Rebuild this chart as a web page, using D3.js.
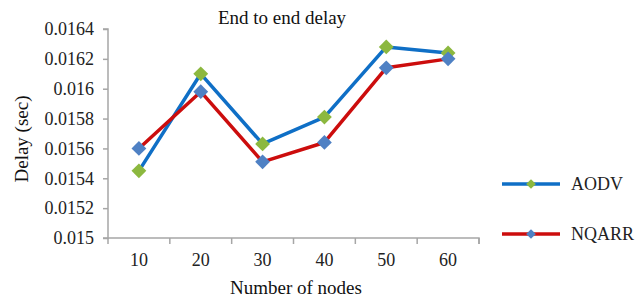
<!DOCTYPE html>
<html>
<head>
<meta charset="utf-8">
<script src="https://cdn.jsdelivr.net/npm/d3@7"></script>
<style>
  body { margin: 0; background: #fff; }
</style>
</head>
<body>
<div id="chart"></div>
<script>
const nodes = ['10', '20', '30', '40', '50', '60']
const aodv = [0.01545, 0.01610, 0.01563, 0.01581, 0.01628, 0.01624]
const nqarr = [0.01560, 0.01598, 0.01551, 0.01564, 0.01614, 0.01620]
const yTicks = [0.015, 0.0152, 0.0154, 0.0156, 0.0158, 0.016, 0.0162, 0.0164]

const W = 635, H = 300
const margin = {top: 29, right: 156, bottom: 62, left: 108}
const width = W - margin.left - margin.right
const height = H - margin.top - margin.bottom
const font = "'Liberation Serif', 'DejaVu Serif', 'Times New Roman', serif"

const svg = d3.select('#chart').append('svg')
    .attr('width', W).attr('height', H)

const g = svg.append('g')
    .attr('transform', `translate(${margin.left}, ${margin.top})`)

const x = d3.scaleBand().domain(nodes).range([0, width]).padding(0)
const y = d3.scaleLinear().domain([0.015, 0.0164]).range([height, 0])

// y axis
const yAxis = g.append('g')
    .call(d3.axisLeft(y).tickValues(yTicks).tickSize(5).tickPadding(9).tickFormat(d => String(+d.toFixed(4))))

// x axis, ticks sit between the categories
const xAxis = g.append('g')
    .attr('transform', `translate(0, ${height})`)
    .call(d3.axisBottom(x).tickSize(0).tickPadding(15))
xAxis.selectAll('.tick line').remove()
xAxis.selectAll('.bound')
    .data(nodes.map(d => x(d)).concat([width]))
    .enter().append('line')
    .attr('x1', d => d).attr('x2', d => d)
    .attr('y1', 0).attr('y2', 6)

yAxis.attr('font-family', null)
xAxis.attr('font-family', null)
g.selectAll('.domain, line').attr('stroke', '#a6a6a6').attr('stroke-width', 1.5)
g.selectAll('.tick text')
    .style('font-family', font).style('font-size', '18px').attr('fill', '#222')
yAxis.select('.domain').attr('d', `M-5,${height}H0V0H-5`)
xAxis.select('.domain').attr('d', `M0,0H${width}V6`)

const diamond = d3.symbol().type(d3.symbolDiamond2).size(140)
const smallDiamond = d3.symbol().type(d3.symbolDiamond2).size(60)

const series = [
    {name: 'AODV', values: aodv, line: '#0f6fc6', mark: '#8cb83f'},
    {name: 'NQARR', values: nqarr, line: '#cc0d0d', mark: '#4f81c4'}
]

const line = d3.line()
    .x((d, i) => x(nodes[i]) + x.bandwidth() / 2)
    .y(d => y(d))

series.forEach(s => {
    g.append('path')
        .datum(s.values)
        .attr('fill', 'none')
        .attr('stroke', s.line)
        .attr('stroke-width', 3.5)
        .attr('stroke-linejoin', 'round')
        .attr('d', line)
})
series.forEach(s => {
    g.selectAll(null)
        .data(s.values)
        .enter().append('path')
        .attr('d', diamond)
        .attr('fill', s.mark)
        .attr('transform', (d, i) => `translate(${x(nodes[i]) + x.bandwidth() / 2}, ${y(d)})`)
})

// legend
const legend = svg.append('g')
series.forEach((s, i) => {
    const ly = 184 + i * 50
    legend.append('line')
        .attr('x1', 502).attr('x2', 560).attr('y1', ly).attr('y2', ly)
        .attr('stroke', s.line).attr('stroke-width', 3.5)
    legend.append('path')
        .attr('d', smallDiamond)
        .attr('fill', s.mark)
        .attr('transform', `translate(531, ${ly})`)
    legend.append('text')
        .attr('x', 571).attr('y', ly + 6)
        .style('font-family', font).style('font-size', '18px').attr('fill', '#222')
        .text(s.name)
})

svg.append('text')
    .attr('x', 282).attr('y', 24)
    .attr('text-anchor', 'middle')
    .style('font-family', font).style('font-size', '19px').attr('fill', '#111')
    .text('End to end delay')

svg.append('text')
    .attr('transform', `translate(28, 139) rotate(-90)`)
    .attr('text-anchor', 'middle')
    .style('font-family', font).style('font-size', '19px').attr('fill', '#111')
    .text('Delay (sec)')

svg.append('text')
    .attr('x', 296).attr('y', 294)
    .attr('text-anchor', 'middle')
    .style('font-family', font).style('font-size', '19px').attr('fill', '#111')
    .text('Number of nodes')
</script>
</body>
</html>
